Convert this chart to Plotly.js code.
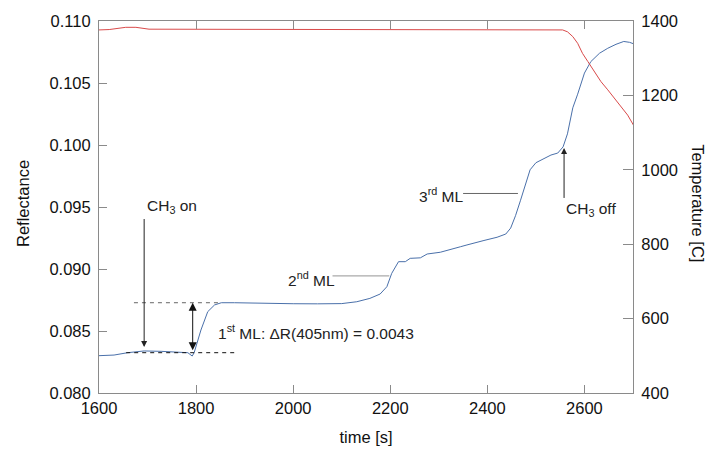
<!DOCTYPE html>
<html>
<head>
<meta charset="utf-8">
<script src="https://cdn.plot.ly/plotly-3.0.1.min.js"></script>
<style>html,body{margin:0;padding:0;background:#fff;}#chart{width:727px;height:459px;}</style>
</head>
<body>
<div id="chart"></div>
<script>
// Reflectance (blue) series
const timeR = [1600,1631,1659,1693,1728,1762,1783,1792,1796,1810,1824,1838,1852,1879,1900,1950,2000,2050,2100,2131,2158,2179,2193,2203,2217,2231,2241,2262,2276,2303,2324,2345,2358,2372,2393,2420,2438,2448,2458,2468,2478,2488,2500,2517,2531,2545,2556,2565,2576,2586,2600,2613,2631,2648,2665,2681,2693,2702];
const reflect = [0.08301,0.08306,0.08325,0.08339,0.08336,0.08331,0.08325,0.08298,0.08325,0.08508,0.08656,0.08710,0.08728,0.08728,0.08726,0.08724,0.08720,0.08719,0.08721,0.08736,0.08763,0.08798,0.08857,0.08965,0.09059,0.09059,0.09086,0.09090,0.09121,0.09135,0.09160,0.09180,0.09194,0.09210,0.09230,0.09256,0.09282,0.09330,0.09430,0.09550,0.09680,0.09800,0.09857,0.09893,0.09919,0.09935,0.09985,0.10090,0.10300,0.10410,0.10580,0.10672,0.10740,0.10780,0.10812,0.10835,0.10828,0.10815];
// Temperature (red) series
const timeT = [1600,1621,1655,1676,1703,1800,2000,2200,2400,2555,2565,2576,2586,2596,2607,2620,2634,2648,2662,2676,2689,2701];
const temp = [1376,1377,1383,1383,1378,1378,1378,1378,1378,1376,1371,1358,1340,1313,1291,1264,1237,1215,1192,1170,1147,1120];
// Tick labels
const xTicks = [1600,1800,2000,2200,2400,2600];
const yTicks = [0.080,0.085,0.090,0.095,0.100,0.105,0.110];
const y2Ticks = [400,600,800,1000,1200,1400];
// Annotation anchors (data coordinates)
const ch3On = {x:1693, tip:0.0837, tail:0.09403};
const ch3Off = {x:2558, tip:0.09976, tail:0.09573};
const ml1 = {x:1793, hi:0.08728, lo:0.08325, tx:1841, ty:0.08495, dashHi:[1672,1850], dashLo:[1656,1885]};
const ml2 = {tx:1985, ty:0.0892, line:[2081,2198], ly:0.08944};
const ml3 = {tx:2255, ty:0.09597, line:[2350,2463], ly:0.09609};

const font = 'Arial, "Liberation Sans", sans-serif';
const axCol = '#8a8a8a';

const traces = [
  {x: timeR, y: reflect, type:'scatter', mode:'lines', line:{color:'#4a70aa', width:1}, yaxis:'y', hoverinfo:'skip'},
  {x: timeT, y: temp, type:'scatter', mode:'lines', line:{color:'#d94a4a', width:1}, yaxis:'y2', hoverinfo:'skip'}
];

const annFont = {family: font, size: 15.5, color:'#222'};
const tickFont = {family: font, size: 16.5, color:'#111'};
const annotations = [
  {xref:'paper', yref:'paper', x:-0.141, y:0.51, text:'Reflectance', textangle:-90, showarrow:false, font:{family:font,size:16.5,color:'#111'}, xanchor:'center', yanchor:'middle'},
  {xref:'paper', yref:'paper', x:1.122, y:0.51, text:'Temperature [C]', textangle:90, showarrow:false, font:{family:font,size:16.5,color:'#111'}, xanchor:'center', yanchor:'middle'},
  // CH3 on: text sits above the tail of its arrow
  {xref:'x', yref:'y', axref:'x', ayref:'y', x:ch3On.x, y:ch3On.tip, ax:ch3On.x, ay:ch3On.tail, text:'CH<sub>3</sub> on', xanchor:'left', yanchor:'bottom', borderpad:2,
   showarrow:true, arrowhead:2, arrowsize:1.2, arrowwidth:1, arrowcolor:'#222', font:annFont},
  // CH3 off: text sits below the tail of its arrow
  {xref:'x', yref:'y', axref:'x', ayref:'y', x:ch3Off.x, y:ch3Off.tip, ax:ch3Off.x, ay:ch3Off.tail, text:'CH<sub>3</sub> off', xanchor:'left', yanchor:'top', borderpad:1,
   showarrow:true, arrowhead:2, arrowsize:1.2, arrowwidth:1, arrowcolor:'#222', font:annFont},
  // 1st ML
  {xref:'x', yref:'y', x:ml1.tx, y:ml1.ty, text:'1<sup>st</sup> ML: \u0394R(405nm) = 0.0043', showarrow:false, xanchor:'left', yanchor:'middle', font:annFont},
  {xref:'x', yref:'y', axref:'x', ayref:'y', x:ml1.x, y:ml1.hi, ax:ml1.x, ay:ml1.lo, text:' ', showarrow:true, arrowhead:2, startarrowhead:2, arrowside:'end+start', arrowsize:1.6, startarrowsize:1.6, arrowwidth:1, arrowcolor:'#111', font:{size:2}},
  // 2nd ML
  {xref:'x', yref:'y', x:ml2.tx, y:ml2.ty, text:'2<sup>nd</sup> ML', showarrow:false, xanchor:'left', yanchor:'middle', font:annFont},
  // 3rd ML
  {xref:'x', yref:'y', x:ml3.tx, y:ml3.ty, text:'3<sup>rd</sup> ML', showarrow:false, xanchor:'left', yanchor:'middle', font:annFont}
];

const shapes = [
  {type:'line', xref:'x', yref:'y', x0:ml1.dashHi[0], x1:ml1.dashHi[1], y0:ml1.hi, y1:ml1.hi, line:{color:'#666', width:1, dash:'4px,4px'}},
  {type:'line', xref:'x', yref:'y', x0:ml1.dashLo[0], x1:ml1.dashLo[1], y0:ml1.lo, y1:ml1.lo, line:{color:'#111', width:1, dash:'4px,4px'}},
  {type:'line', xref:'x', yref:'y', x0:ml2.line[0], x1:ml2.line[1], y0:ml2.ly, y1:ml2.ly, line:{color:'#aaa', width:1.2}},
  {type:'line', xref:'x', yref:'y', x0:ml3.line[0], x1:ml3.line[1], y0:ml3.ly, y1:ml3.ly, line:{color:'#666', width:1}}
];

const layout = {
  width:727, height:459,
  margin:{l:99, r:94, t:21, b:66},
  paper_bgcolor:'#fff', plot_bgcolor:'#fff',
  showlegend:false,
  font:{family:font, size:16, color:'#111'},
  xaxis:{range:[1600,2700], tickvals:xTicks, ticktext:xTicks.map(String), ticks:'inside', ticklen:8, tickcolor:axCol, tickwidth:1,
         showline:true, linecolor:axCol, linewidth:1, mirror:'ticks', showgrid:false, zeroline:false,
         title:{text:'time [s]', font:{family:font,size:16.5,color:'#111'}, standoff:15}, tickfont:tickFont},
  yaxis:{range:[0.080,0.110], tickvals:yTicks, ticktext:yTicks.map(v=>v.toFixed(3)), ticks:'inside', ticklen:8, tickcolor:axCol, tickwidth:1,
         showline:true, linecolor:axCol, linewidth:1, showgrid:false, zeroline:false, ticklabelstandoff:4, tickfont:tickFont},
  yaxis2:{range:[400,1400], tickvals:y2Ticks, ticktext:y2Ticks.map(String), overlaying:'y', side:'right', ticks:'inside', ticklen:10, tickcolor:axCol, tickwidth:1,
          showline:true, linecolor:axCol, linewidth:1, showgrid:false, zeroline:false, ticklabelstandoff:4, tickfont:tickFont},
  annotations: annotations,
  shapes: shapes
};

Plotly.newPlot('chart', traces, layout, {displayModeBar:false});
</script>
</body>
</html>
